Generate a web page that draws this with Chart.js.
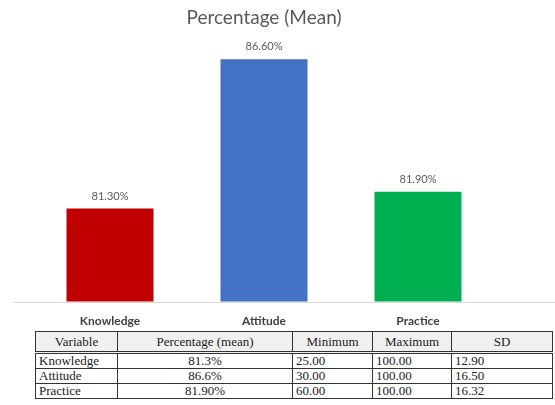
<!DOCTYPE html>
<html>
<head>
<meta charset="utf-8">
<script src="https://cdn.jsdelivr.net/npm/chart.js@4"></script>
<style>
  html, body { margin: 0; padding: 0; background: #fff; width: 555px; height: 405px; overflow: hidden; }
  #wrap { position: absolute; left: 0; top: 0; width: 555px; height: 350px; }
  #stats { position: absolute; left: 35px; top: 331px; border-collapse: collapse; font-family: "Liberation Serif", "Times New Roman", serif; font-size: 13px; color: #222; table-layout: fixed; width: 517px; border: 1.5px solid #333; background: #fff; }
  #stats th, #stats td { border: 1px solid #333; padding: 0 3px; line-height: 14px; white-space: nowrap; }
  #stats th { font-weight: normal; background: #f0f0f0; height: 19px; text-align: center; border-bottom: 3px double #333; }
  #stats td { text-align: left; }
  #stats td.c { text-align: center; }
</style>
</head>
<body>
<div id="wrap"><canvas id="c" width="555" height="350"></canvas></div>
<table id="stats">
  <colgroup><col style="width:82px"><col style="width:175px"><col style="width:80px"><col style="width:79px"><col style="width:101px"></colgroup>
  <thead><tr id="hdr"></tr></thead>
  <tbody id="tb"></tbody>
</table>
<script>
const categories = ["Knowledge", "Attitude", "Practice"];
const meanPercent = [81.3, 86.6, 81.9];
const barColors = ["#c00000", "#4472c4", "#00b050"];
const tableHeaders = ["Variable", "Percentage  (mean)", "Minimum", "Maximum", "SD"];
const tablePercent = ["81.3%", "86.6%", "81.90%"];
const tableMin = ["25.00", "30.00", "60.00"];
const tableMax = ["100.00", "100.00", "100.00"];
const tableSD = ["12.90", "16.50", "16.32"];

// table
const hdr = document.getElementById('hdr');
tableHeaders.forEach(h => { const th = document.createElement('th'); th.textContent = h; hdr.appendChild(th); });
const tb = document.getElementById('tb');
categories.forEach((cat, i) => {
  const tr = document.createElement('tr');
  [[cat, ''], [tablePercent[i], 'c'], [tableMin[i], ''], [tableMax[i], ''], [tableSD[i], '']].forEach(([t, cls]) => {
    const td = document.createElement('td'); td.textContent = t; if (cls) td.className = cls; tr.appendChild(td);
  });
  tb.appendChild(tr);
});

const baseline = {
  id: 'baseline',
  afterDatasetsDraw(chart) {
    const ctx = chart.ctx, y = chart.scales.y.getPixelForValue(chart.scales.y.min);
    ctx.save();
    ctx.strokeStyle = '#d9d9d9'; ctx.lineWidth = 1;
    ctx.beginPath(); ctx.moveTo(13, Math.round(y) + 0.5); ctx.lineTo(chart.width, Math.round(y) + 0.5); ctx.stroke();
    ctx.restore();
  }
};
const valueLabels = {
  id: 'valueLabels',
  afterDatasetsDraw(chart) {
    const ctx = chart.ctx;
    ctx.save();
    ctx.font = '11px Lato, "Open Sans", sans-serif';
    ctx.fillStyle = '#595959'; ctx.textAlign = 'center'; ctx.textBaseline = 'bottom';
    chart.getDatasetMeta(0).data.forEach((bar, i) => {
      ctx.fillText(meanPercent[i].toFixed(2) + '%', bar.x, bar.y - 7);
    });
    ctx.restore();
  }
};

new Chart(document.getElementById('c'), {
  type: 'bar',
  data: {
    labels: categories,
    datasets: [{ data: meanPercent, backgroundColor: barColors, categoryPercentage: 1, barPercentage: 0.565 }]
  },
  options: {
    responsive: false,
    animation: false,
    layout: { padding: { left: 33, right: 60, top: 0, bottom: 18 } },
    plugins: {
      legend: { display: false },
      tooltip: { enabled: false },
      title: { display: true, text: 'Percentage (Mean)', color: '#595959', font: { family: 'Lato', size: 19, weight: 'normal' }, padding: { top: 6, bottom: 19.2 } }
    },
    scales: {
      y: { display: false, min: 78, max: 87 },
      x: {
        grid: { display: false },
        border: { display: false },
        ticks: { color: '#404040', font: { family: 'Lato', size: 12, weight: 'bold' }, padding: 4 }
      }
    }
  },
  plugins: [baseline, valueLabels]
});
</script>
</body>
</html>
